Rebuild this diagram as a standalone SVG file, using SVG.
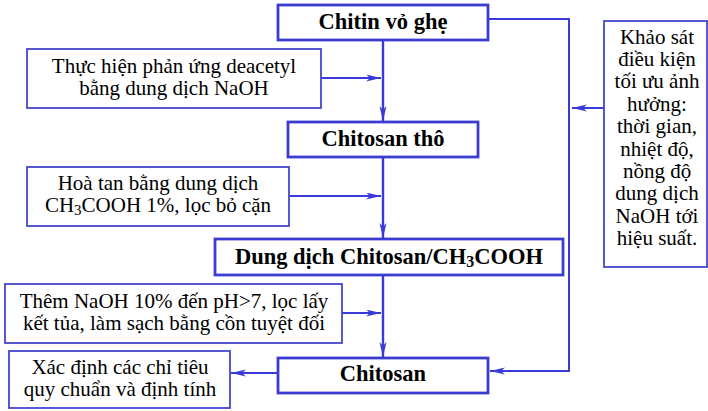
<svg xmlns="http://www.w3.org/2000/svg" width="708" height="411" viewBox="0 0 708 411">
<defs>
<marker id="ah" markerUnits="userSpaceOnUse" markerWidth="16" markerHeight="8" refX="15" refY="3.5" orient="auto">
<path d="M0,0 L15,3.5 L0,7 L4,3.5 z" fill="#3a3ad8"/>
</marker>
<style>
.main{fill:#fff;stroke:#3c3cd2;stroke-width:2.8}
.side{fill:#fff;stroke:#4646cc;stroke-width:1.8}
.t{font-family:"Liberation Serif","Times New Roman",serif;font-size:21px;fill:#000;text-anchor:middle}
.b{font-family:"Liberation Serif","Times New Roman",serif;font-size:22.5px;font-weight:bold;fill:#000;text-anchor:middle}
.ln{fill:none;stroke:#3a3ad8;stroke-width:2}
.mln{fill:none;stroke:#3a3ad8;stroke-width:2.4}
</style>
</defs>
<rect width="708" height="411" fill="#fff"/>
<g id="connectors">
<line class="mln" x1="383" y1="40" x2="383" y2="121" marker-end="url(#ah)"/>
<line class="mln" x1="383" y1="157" x2="383" y2="238" marker-end="url(#ah)"/>
<line class="mln" x1="383" y1="275" x2="383" y2="357" marker-end="url(#ah)"/>
<line class="ln" x1="321" y1="78" x2="381" y2="78" marker-end="url(#ah)"/>
<line class="ln" x1="289" y1="196" x2="381" y2="196" marker-end="url(#ah)"/>
<line class="ln" x1="342" y1="313" x2="381" y2="313" marker-end="url(#ah)"/>
<line class="ln" x1="278" y1="373" x2="231" y2="373" marker-end="url(#ah)"/>
<polyline class="ln" points="488,19 569,19 569,371 490,371" marker-end="url(#ah)"/>
<line class="ln" x1="604" y1="108" x2="572" y2="108" marker-end="url(#ah)"/>
</g>
<g id="chitin">
<rect class="main" x="278" y="5" width="210" height="35"/>
<text class="b" x="383" y="29">Chitin vỏ ghẹ</text>
</g>
<g id="deacetyl">
<rect class="side" x="27" y="49" width="294" height="59"/>
<text class="t" x="174" y="73">Thực hiện phản ứng deacetyl</text>
<text class="t" x="174" y="95">bằng dung dịch NaOH</text>
</g>
<g id="chitosan-tho">
<rect class="main" x="288" y="122" width="190" height="35"/>
<text class="b" x="383" y="146">Chitosan thô</text>
</g>
<g id="hoa-tan">
<rect class="side" x="27" y="167" width="262" height="59"/>
<text class="t" x="158" y="190">Hoà tan bằng dung dịch</text>
<text class="t" x="158" y="212">CH<tspan font-size="15" dy="3">3</tspan><tspan dy="-3">COOH 1%, lọc bỏ cặn</tspan></text>
</g>
<g id="dung-dich">
<rect class="main" x="215" y="239" width="348" height="36"/>
<text class="b" x="389" y="264">Dung dịch Chitosan/CH<tspan font-size="16" dy="3">3</tspan><tspan dy="-3">COOH</tspan></text>
</g>
<g id="them-naoh">
<rect class="side" x="5" y="284" width="337" height="59"/>
<text class="t" x="174" y="308">Thêm NaOH 10% đến pH&gt;7, lọc lấy</text>
<text class="t" x="174" y="330">kết tủa, làm sạch bằng cồn tuyệt đối</text>
</g>
<g id="chitosan">
<rect class="main" x="278" y="358" width="210" height="35"/>
<text class="b" x="383" y="381">Chitosan</text>
</g>
<g id="xac-dinh">
<rect class="side" x="9" y="351" width="221" height="57"/>
<text class="t" x="120" y="374">Xác định các chỉ tiêu</text>
<text class="t" x="120" y="396">quy chuẩn và định tính</text>
</g>
<g id="khao-sat">
<rect class="side" x="604" y="21" width="103" height="246"/>
<text class="t" x="657" y="44">Khảo sát</text>
<text class="t" x="657" y="66">điều kiện</text>
<text class="t" x="657" y="88">tối ưu ảnh</text>
<text class="t" x="657" y="111">hưởng:</text>
<text class="t" x="657" y="133">thời gian,</text>
<text class="t" x="657" y="156">nhiệt độ,</text>
<text class="t" x="657" y="178">nồng độ</text>
<text class="t" x="657" y="200">dung dịch</text>
<text class="t" x="657" y="223">NaOH tới</text>
<text class="t" x="657" y="245">hiệu suất.</text>
</g>
</svg>
